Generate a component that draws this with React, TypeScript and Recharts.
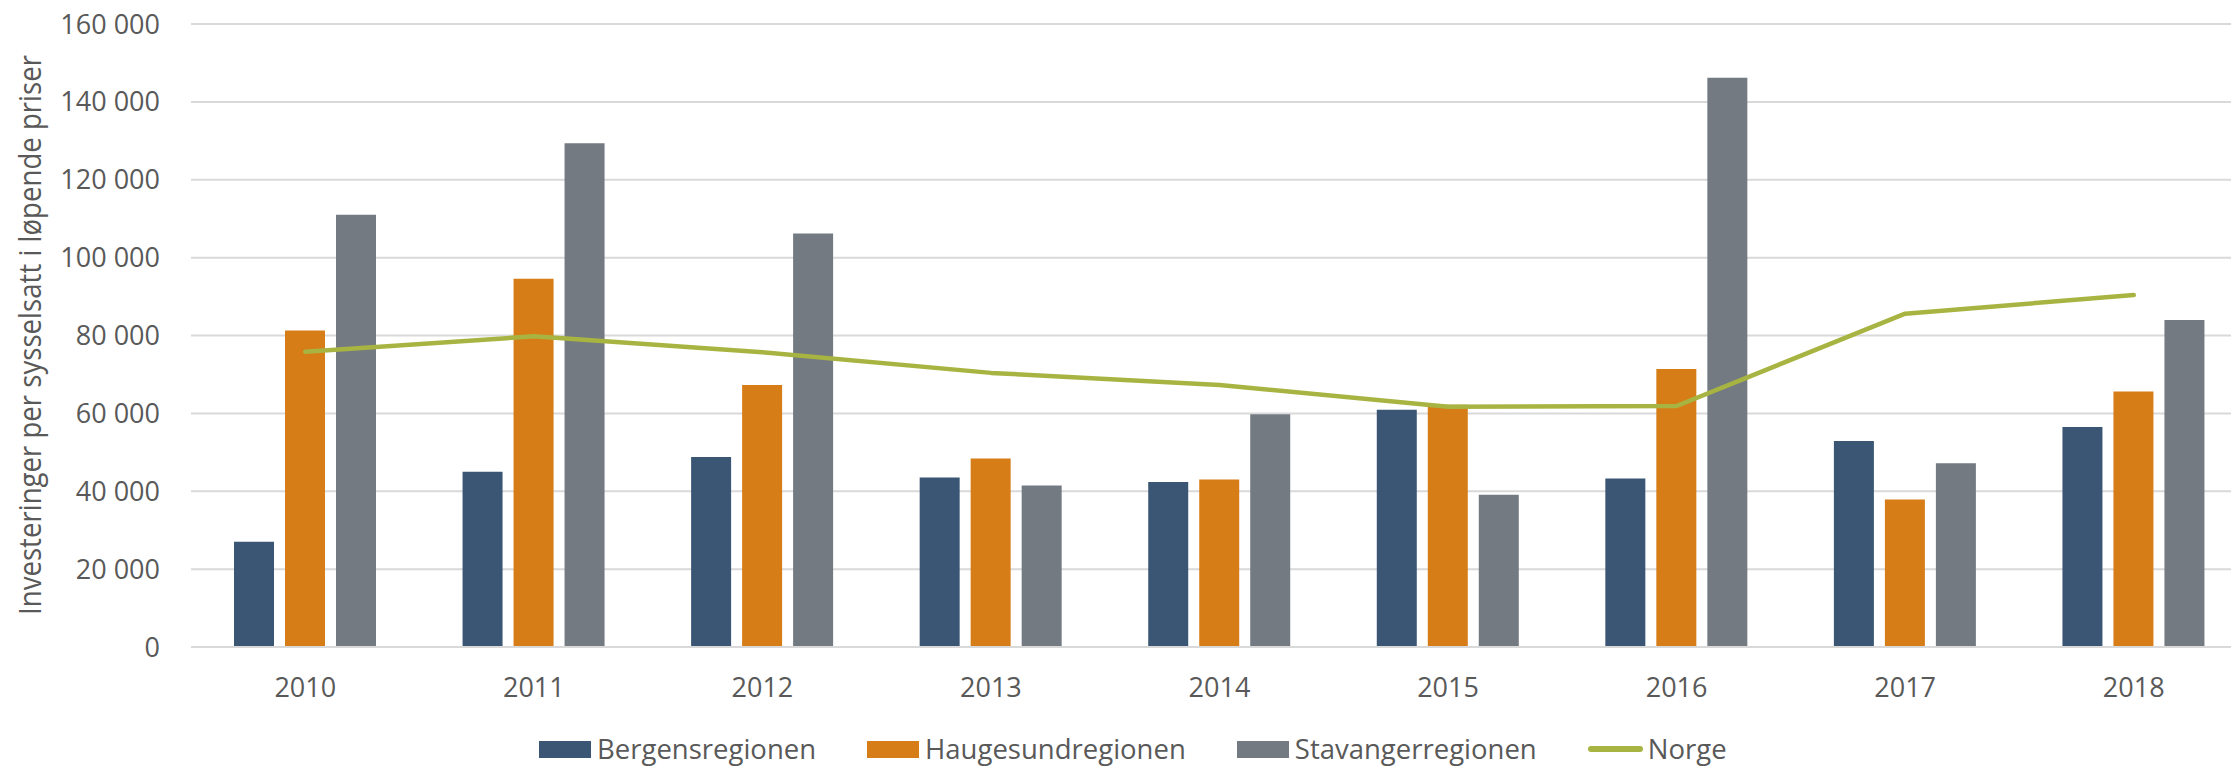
import React from 'react';
import {
  ComposedChart,
  Bar,
  Line,
  XAxis,
  YAxis,
  CartesianGrid,
} from 'recharts';

const years = ['2010', '2011', '2012', '2013', '2014', '2015', '2016', '2017', '2018'];
const bergen = [27000, 45000, 48800, 43500, 42400, 60900, 43300, 52900, 56500];
const haugesund = [81300, 94600, 67300, 48400, 43000, 62200, 71400, 37900, 65600];
const stavanger = [111000, 129400, 106200, 41500, 59800, 39100, 146200, 47200, 84000];
const norge = [75800, 79800, 75700, 70400, 67300, 61700, 61900, 85600, 90400];
const yTicks = [0, 20000, 40000, 60000, 80000, 100000, 120000, 140000, 160000];

const COLORS = {
  bergen: '#3A5674',
  haugesund: '#D67D17',
  stavanger: '#737A82',
  norge: '#A8B441',
};
const TEXT = '#595959';
const GRID = '#D9D9D9';
const FONT = '"Open Sans", "Noto Sans", sans-serif';

const data = years.map((year, i) => ({
  year,
  Bergensregionen: bergen[i],
  Haugesundregionen: haugesund[i],
  Stavangerregionen: stavanger[i],
  Norge: norge[i],
}));

const fmt = (v: number) => String(v).replace(/\B(?=(\d{3})+(?!\d))/g, ' ');

const AxisTitle = () => (
  <text
    x={41}
    y={335}
    transform="rotate(-90, 41, 335)"
    textAnchor="middle"
    fill={TEXT}
    fontSize={31}
    fontFamily={FONT}
    textLength={560}
    lengthAdjust="spacingAndGlyphs"
  >
    Investeringer per sysselsatt i løpende priser
  </text>
);

const legendItems = [
  { name: 'Bergensregionen', color: COLORS.bergen, line: false },
  { name: 'Haugesundregionen', color: COLORS.haugesund, line: false },
  { name: 'Stavangerregionen', color: COLORS.stavanger, line: false },
  { name: 'Norge', color: COLORS.norge, line: true },
];

const App = () => {
  return (
    <div
      style={{
        position: 'absolute',
        left: 0,
        top: 0,
        width: 2231,
        height: 766,
        overflow: 'hidden',
        background: '#fff',
      }}
    >
      <ComposedChart
        width={2262}
        height={766}
        data={data}
        margin={{ top: 24, right: 14, left: 0, bottom: 59 }}
        barGap={11}
      >
        <CartesianGrid vertical={false} stroke={GRID} strokeWidth={2} />
        <XAxis
          dataKey="year"
          height={60}
          axisLine={{ stroke: GRID, strokeWidth: 2 }}
          tickLine={false}
          tickSize={0}
          tickMargin={31}
          tick={{ fontSize: 27, fill: TEXT, fontFamily: FONT }}
        />
        <YAxis
          width={191}
          domain={[0, 160000]}
          ticks={yTicks}
          axisLine={false}
          tickLine={false}
          tickSize={0}
          tickMargin={31}
          tickFormatter={fmt}
          tick={{ fontSize: 27, fill: TEXT, fontFamily: FONT }}
          label={<AxisTitle />}
        />
        <Bar dataKey="Bergensregionen" fill={COLORS.bergen} barSize={40} isAnimationActive={false} />
        <Bar dataKey="Haugesundregionen" fill={COLORS.haugesund} barSize={40} isAnimationActive={false} />
        <Bar dataKey="Stavangerregionen" fill={COLORS.stavanger} barSize={40} isAnimationActive={false} />
        <Line
          type="linear"
          dataKey="Norge"
          stroke={COLORS.norge}
          strokeWidth={4.5}
          strokeLinecap="round"
          strokeLinejoin="round"
          dot={false}
          activeDot={false}
          isAnimationActive={false}
        />
      </ComposedChart>
      <div
        style={{
          position: 'absolute',
          left: 539,
          top: 733,
          height: 32,
          display: 'flex',
          alignItems: 'center',
          fontFamily: FONT,
          fontSize: 27.5,
          lineHeight: '32px',
          color: TEXT,
          whiteSpace: 'nowrap',
        }}
      >
        {legendItems.map((item, i) => (
          <div
            key={item.name}
            style={{ display: 'flex', alignItems: 'center', marginRight: i < legendItems.length - 1 ? 51 : 0 }}
          >
            {item.line ? (
              <span
                style={{
                  display: 'inline-block',
                  width: 55,
                  height: 6,
                  borderRadius: 3,
                  background: item.color,
                  marginRight: 5,
                }}
              />
            ) : (
              <span
                style={{
                  display: 'inline-block',
                  width: 52,
                  height: 17,
                  background: item.color,
                  marginRight: 6,
                }}
              />
            )}
            <span>{item.name}</span>
          </div>
        ))}
      </div>
    </div>
  );
};

export default App;
